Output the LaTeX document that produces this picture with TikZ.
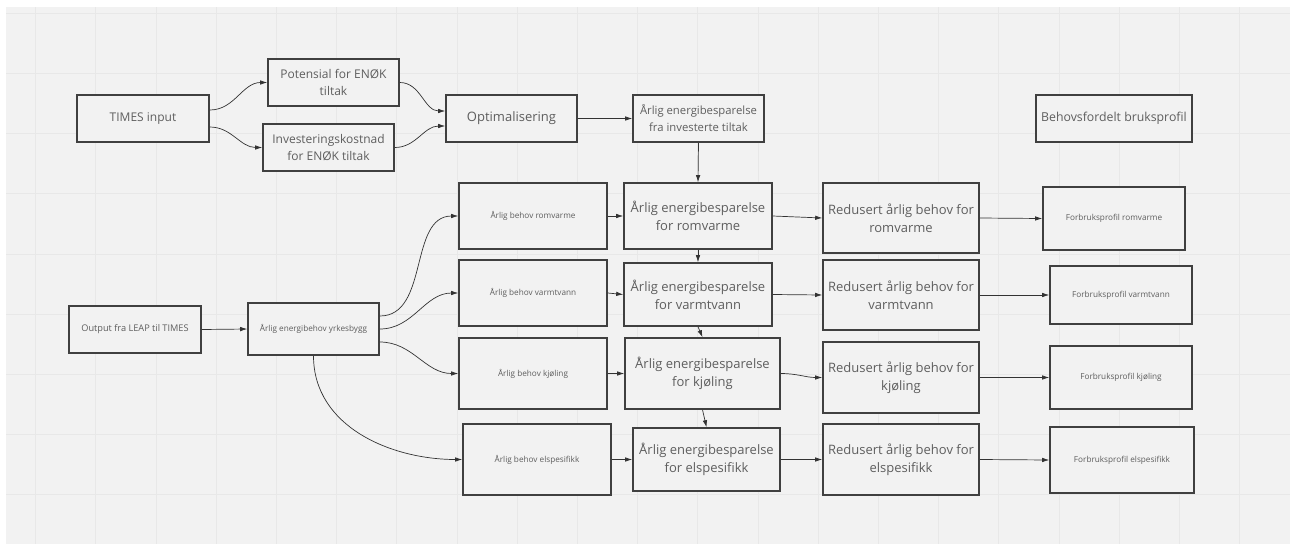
\documentclass[tikz,border=0pt]{standalone}
\usepackage{fontspec}
\setmainfont{Open Sans}
\usetikzlibrary{arrows.meta}
\definecolor{bgc}{HTML}{F2F2F2}
\definecolor{gridc}{HTML}{E8E8E8}
\definecolor{boxc}{HTML}{404040}
\definecolor{txtc}{HTML}{5E5E5E}
\definecolor{linec}{HTML}{333333}
\tikzset{
  box/.style={draw=boxc, line width=1.6pt, fill=bgc, inner sep=0pt, align=center, text=txtc},
  big/.style={font=\fontsize{13}{18}\selectfont},
  mid/.style={font=\fontsize{12}{17}\selectfont},
  small/.style={font=\fontsize{8.2}{11}\selectfont},
  conn/.style={draw=linec, line width=0.7pt, -{Latex[length=7pt,width=4.5pt]}},
}
\newcommand{\bx}[7]{\node[box,#7,minimum width={(#4)-(#2)}, minimum height={(#5)-(#3)}] (#1) at ({((#2)+(#4))/2},{((#3)+(#5))/2}) {#6};}
\begin{document}
\begin{tikzpicture}[x=1pt,y=-1pt]
\useasboundingbox (0,0) rectangle (1290,544);
\fill[white] (0,0) rectangle (1290,544);
\fill[bgc] (6,7) rectangle (1290,544);
\foreach \i in {0,...,20} {\draw[gridc, line width=0.6pt] ({35.5+60.2*\i},7) -- ({35.5+60.2*\i},544);}
\foreach \j in {0,...,8} {\draw[gridc, line width=0.6pt] (6,{13+60.2*\j}) -- (1290,{13+60.2*\j});}

\bx{tin}{77}{95}{209}{142}{TIMES input}{mid}
\bx{pot}{268}{59}{399}{106}{Potensial for ENØK\\tiltak}{mid}
\bx{inv}{263}{124}{394}{171}{Investeringskostnad\\for ENØK tiltak}{mid}
\bx{opt}{446}{95}{577}{142}{Optimalisering}{big}
\bx{tsp}{633}{95}{764}{142}{Årlig energibesparelse\\fra investerte tiltak}{font=\fontsize{11.3}{17}\selectfont}
\bx{beh}{1036}{95}{1192}{142}{Behovsfordelt bruksprofil}{font=\fontsize{12.3}{17}\selectfont}

\bx{leap}{69}{306}{201}{353}{Output fra LEAP til TIMES}{font=\fontsize{9.2}{12}\selectfont}
\bx{yrk}{248}{303}{379}{355}{Årlig energibehov yrkesbygg}{small}

\bx{br}{459}{183}{607}{249}{Årlig behov romvarme}{small}
\bx{bv}{459}{260}{607}{326}{Årlig behov varmtvann}{small}
\bx{bk}{459}{338}{607}{409}{Årlig behov kjøling}{small}
\bx{be}{463}{424}{611}{495}{Årlig behov elspesifikk}{small}

\bx{sr}{624}{183}{772}{249}{Årlig energibesparelse\\for romvarme}{big}
\bx{sv}{624}{263}{772}{326}{Årlig energibesparelse\\for varmtvann}{big}
\bx{sk}{625}{338}{780}{409}{Årlig energibesparelse\\for kjøling}{big}
\bx{se}{633}{428}{780}{491}{Årlig energibesparelse\\for elspesifikk}{big}

\bx{rr}{823}{183}{979}{253}{Redusert årlig behov for\\romvarme}{big}
\bx{rv}{823}{260}{979}{330}{Redusert årlig behov for\\varmtvann}{big}
\bx{rk}{823}{342}{979}{413}{Redusert årlig behov for\\kjøling}{big}
\bx{re}{823}{424}{979}{495}{Redusert årlig behov for\\elspesifikk}{big}

\bx{fr}{1043}{187}{1185}{250}{Forbruksprofil romvarme}{small}
\bx{fv}{1050}{266}{1192}{324}{Forbruksprofil varmtvann}{small}
\bx{fk}{1050}{346}{1192}{409}{Forbruksprofil kjøling}{small}
\bx{fe}{1050}{427}{1194}{493}{Forbruksprofil elspesifikk}{small}

% top connectors
\draw[conn] ([yshift=8.5pt]tin.east) to[out=0,in=180] (pot.west);
\draw[conn] ([yshift=-8.5pt]tin.east) to[out=0,in=180] (inv.west);
\draw[conn] (pot.east) to[out=0,in=180] ([yshift=7.5pt]opt.west);
\draw[conn] (inv.east) to[out=0,in=180] ([yshift=-7.5pt]opt.west);
\draw[conn] (opt.east) -- (tsp.west);
\draw[conn] (tsp.south) -- (sr.north);

% left
\draw[conn] (leap.east) -- (yrk.west);
\draw[conn] ([yshift=13pt]yrk.east) to[out=0,in=180] (br.west);
\draw[conn] (yrk.east) to[out=0,in=180] (bv.west);
\draw[conn] ([yshift=-13pt]yrk.east) to[out=0,in=180] (bk.west);
\draw[conn] (yrk.south) to[out=-90,in=180] (be.west);

% behov -> besparelse
\draw[conn] (br.east) -- (sr.west);
\draw[conn] (bv.east) -- (sv.west);
\draw[conn] (bk.east) -- (sk.west);
\draw[conn] (be.east) -- (se.west);

% besparelse chain
\draw[conn] (sr.south) -- (sv.north);
\draw[conn] (sv.south) -- (sk.north);
\draw[conn] (sk.south) -- (se.north);

% besparelse -> redusert
\draw[conn] (sr.east) -- (rr.west);
\draw[conn] (sv.east) -- (rv.west);
\draw[conn] (sk.east) to[out=0,in=180] (rk.west);
\draw[conn] (se.east) -- (re.west);

% redusert -> forbruksprofil
\draw[conn] (rr.east) -- (fr.west);
\draw[conn] (rv.east) -- (fv.west);
\draw[conn] (rk.east) -- (fk.west);
\draw[conn] (re.east) -- (fe.west);
\end{tikzpicture}
\end{document}
